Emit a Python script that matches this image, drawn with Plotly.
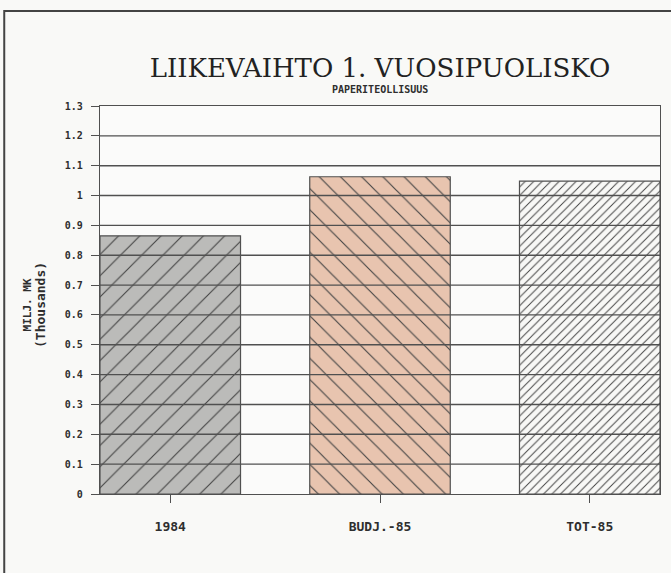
import plotly.graph_objects as go

# ---- data ----
categories = ["1984", "BUDJ.-85", "TOT-85"]
values = [0.865, 1.063, 1.048]
y_ticks = [0, 0.1, 0.2, 0.3, 0.4, 0.5, 0.6, 0.7, 0.8, 0.9, 1.0, 1.1, 1.2, 1.3]
fill_colors = ["#bbbbb9", "#e8c4af", "#f8f8f6"]
hatch_shapes = ["/", "\\", "/"]
hatch_sizes = [15, 15, 6]
hatch_solidity = [0.075, 0.075, 0.16]
title_text = "LIIKEVAIHTO 1. VUOSIPUOLISKO"
subtitle_text = "PAPERITEOLLISUUS"
ytitle_line1 = "MILJ. MK"
ytitle_line2 = "(Thousands)"

INK = "#2e2e2e"
LINE = "#505050"
MONO = "DejaVu Sans Mono"

fig = go.Figure(
    go.Bar(
        x=categories,
        y=values,
        width=0.67,
        marker=dict(
            color=fill_colors,
            line=dict(color=LINE, width=1.2),
            pattern=dict(
                shape=hatch_shapes,
                size=hatch_sizes,
                solidity=hatch_solidity,
                fgcolor="#3c3c3c",
                fgopacity=1,
                bgcolor=fill_colors,
                fillmode="overlay",
            ),
        ),
        showlegend=False,
        hoverinfo="skip",
    )
)

# horizontal grid lines drawn above the bars (as in the reference)
for v in y_ticks[1:-1]:
    fig.add_shape(
        type="line", xref="paper", x0=0, x1=1, yref="y", y0=v, y1=v,
        layer="above", line=dict(color=LINE, width=1.4),
    )

# outer frame of the page
fig.add_shape(
    type="rect", xref="paper", yref="paper",
    x0=-0.171, x1=1.03, y0=-0.25, y1=1.245,
    layer="above", line=dict(color="#444444", width=2),
)

fig.update_layout(
    width=671,
    height=573,
    margin=dict(l=100, r=11, t=106, b=79),
    paper_bgcolor="#f9f9f7",
    plot_bgcolor="#fbfbfa",
    bargap=0.33,
    title=dict(
        text=title_text,
        font=dict(family="DejaVu Serif", size=26, color="#222222"),
        x=0.5, xref="paper", xanchor="center",
        y=1 - 68 / 573, yref="container", yanchor="middle",
    ),
    xaxis=dict(
        range=[-0.335, 2.335],
        showgrid=False,
        showline=True, mirror=True, linecolor=LINE, linewidth=1.4,
        ticks="outside", ticklen=8, tickcolor=LINE, tickwidth=1.2,
        ticklabelstandoff=12,
        tickfont=dict(family=MONO, size=13, color=INK, weight="bold"),
    ),
    yaxis=dict(
        range=[0, 1.3],
        tickvals=y_ticks,
        showgrid=False,
        zeroline=False,
        showline=True, mirror=True, linecolor=LINE, linewidth=1.4,
        ticks="outside", ticklen=8, tickcolor=LINE, tickwidth=1.2,
        ticklabelstandoff=6,
        tickfont=dict(family=MONO, size=10, color=INK, weight="bold"),
    ),
    annotations=[
        dict(
            text=subtitle_text, xref="paper", yref="paper",
            x=0.5, y=(494 - 90) / 388, xanchor="center", yanchor="middle",
            showarrow=False,
            font=dict(family=MONO, size=10, color=INK, weight="bold"),
        ),
        dict(
            text=ytitle_line1 + "<br><span style='font-size:13px'>" + ytitle_line2 + "</span>",
            xref="paper", yref="paper",
            x=(34 - 100) / 560, y=(494 - 305) / 388,
            xanchor="center", yanchor="middle", textangle=-90,
            showarrow=False,
            font=dict(family=MONO, size=11, color=INK, weight="bold"),
        ),
    ],
)

fig.write_html(
    "out.html",
    config={"displayModeBar": False},
    post_script="document.body.style.margin='0';document.body.style.overflow='hidden';",
)
